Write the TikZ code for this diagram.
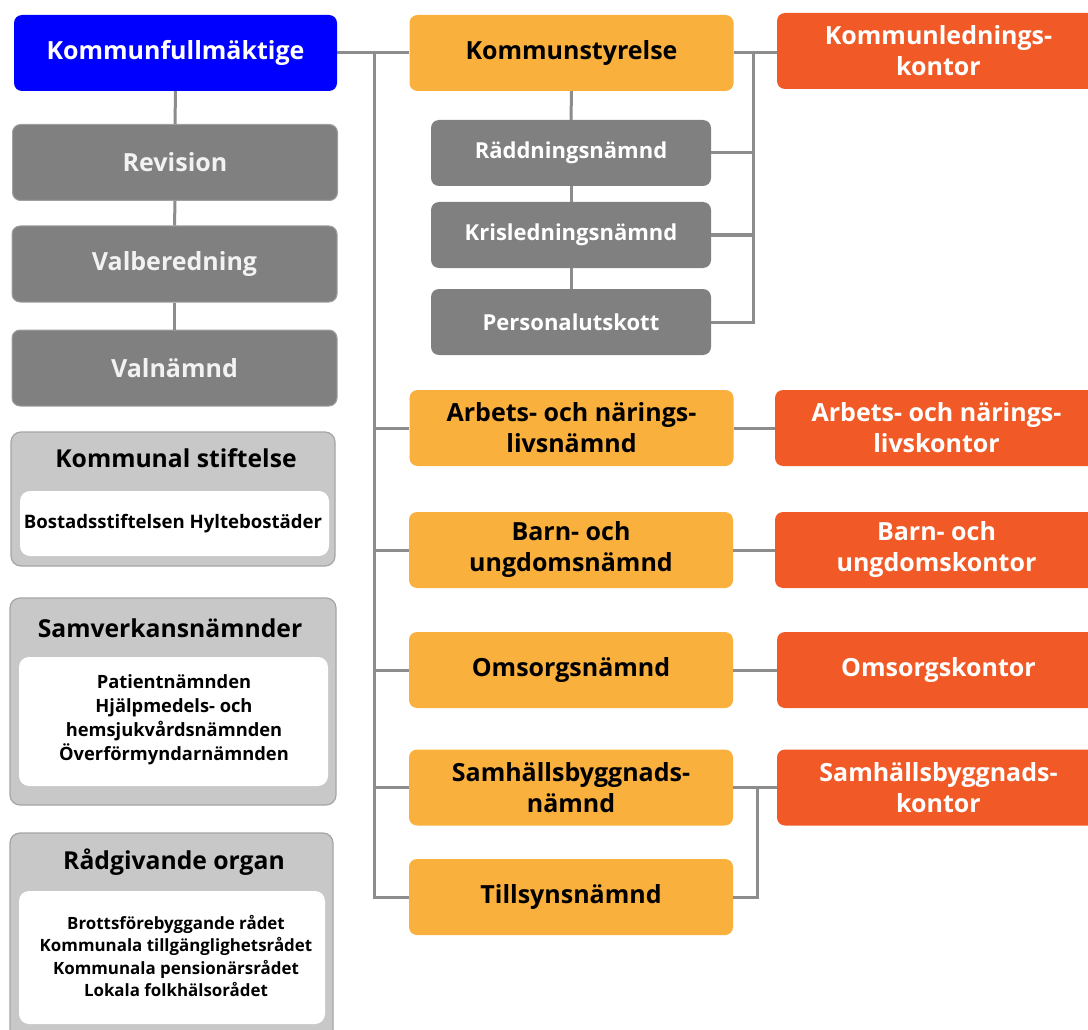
\documentclass[tikz,border=0pt]{standalone}
\usepackage{fontspec}
\setmainfont{Open Sans}
\definecolor{kfblue}{RGB}{0,0,255}
\definecolor{nmorange}{RGB}{250,176,60}
\definecolor{ktred}{RGB}{241,90,39}
\definecolor{boxgray}{RGB}{128,128,128}
\definecolor{boxgrayedge}{RGB}{160,160,160}
\definecolor{panelgray}{RGB}{200,200,200}
\definecolor{paneledge}{RGB}{165,165,165}
\definecolor{linegray}{RGB}{140,140,140}
\tikzset{
  base/.style={rectangle, rounded corners=8pt, align=center, inner sep=0pt, font=\bfseries\fontsize{25}{31}\selectfont},
  bluebox/.style={base, fill=kfblue, text=white, minimum width=323pt, minimum height=76pt},
  graybox/.style={base, fill=boxgray, draw=boxgrayedge, line width=1pt, text={rgb,255:red,242;green,242;blue,242}, minimum width=325pt, minimum height=76pt},
  subbox/.style={base, fill=boxgray, text=white, minimum width=280pt, minimum height=66pt, font=\bfseries\fontsize{22}{26}\selectfont},
  nambox/.style={base, fill=nmorange, text=black, minimum width=324pt, minimum height=76pt},
  kontbox/.style={base, fill=ktred, text=white, minimum width=323pt, minimum height=76pt},
  panel/.style={rectangle, rounded corners=10pt, fill=panelgray, draw=paneledge, line width=1.2pt},
  inner/.style={rectangle, rounded corners=10pt, fill=white},
  ptitle/.style={font=\bfseries\fontsize{24.7}{28}\selectfont, text=black, inner sep=0pt},
  ptext/.style={font=\bfseries\fontsize{18.3}{24}\selectfont, text=black, align=center, inner sep=0pt},
  conn/.style={draw=linegray, line width=3pt},
}
\begin{document}
\begin{tikzpicture}[x=1pt,y=-1pt]
\clip (0,0) rectangle (1088,1030);
\fill[white] (0,0) rectangle (1088,1030);
\coordinate (t0) at (374,53);
\coordinate (b0) at (753,53);
\coordinate (b1) at (757,787.5);
% left column
\node[bluebox] (kf) at (175.5,53) {Kommunfullmäktige};
\node[graybox] (rev) at (175,162.5) {Revision};
\node[graybox] (valb) at (174.5,264) {Valberedning};
\node[graybox] (valn) at (174.5,368) {Valnämnd};
% panels
\node[panel, minimum width=324pt, minimum height=134pt] (stift) at (173,499) {};
\node[inner, minimum width=309pt, minimum height=65pt] (stifti) at (174.5,523.5) {};
\node[ptitle] (stiftt) at (176,458) {Kommunal stiftelse};
\node[ptext, font=\bfseries\fontsize{18.6}{24}\selectfont] (stiftx) at (173,524) {Bostadsstiftelsen Hyltebostäder};
\node[panel, minimum width=326pt, minimum height=207pt] (samv) at (173,701.5) {};
\node[inner, minimum width=309pt, minimum height=129pt] (samvi) at (173.5,721.5) {};
\node[ptitle] (samvt) at (170,628) {Samverkansnämnder};
\node[ptext] (samvx) at (174,719.5) {Patientnämnden\\Hjälpmedels- och\\hemsjukvårdsnämnden\\Överförmyndarnämnden};
\node[panel, minimum width=323pt, minimum height=220pt] (radg) at (171.5,943) {};
\node[inner, minimum width=306pt, minimum height=133pt] (radgi) at (172,957.5) {};
\node[ptitle] (radgt) at (174,862) {Rådgivande organ};
\node[ptext, font=\bfseries\fontsize{16.9}{22.5}\selectfont] (radgx) at (176,956) {Brottsförebyggande rådet\\Kommunala tillgänglighetsrådet\\Kommunala pensionärsrådet\\Lokala folkhälsorådet};
% middle column
\node[nambox] (ks) at (571.5,53) {Kommunstyrelse};
\node[subbox] (radd) at (571,153) {Räddningsnämnd};
\node[subbox] (kris) at (571,235) {Krisledningsnämnd};
\node[subbox] (pers) at (571,322) {Personalutskott};
\node[nambox] (arb) at (571.5,428) {Arbets- och närings-\\livsnämnd};
\node[nambox] (barn) at (571,550) {Barn- och\\ungdomsnämnd};
\node[nambox] (oms) at (571,670) {Omsorgsnämnd};
\node[nambox] (samh) at (571,787.5) {Samhällsbyggnads-\\nämnd};
\node[nambox] (till) at (571,897) {Tillsynsnämnd};
% right column
\node[kontbox] (klk) at (938.5,51) {Kommunlednings-\\kontor};
\node[kontbox] (akont) at (936.5,428) {Arbets- och närings-\\livskontor};
\node[kontbox] (bkont) at (936.5,550) {Barn- och\\ungdomskontor};
\node[kontbox] (okont) at (938.5,670) {Omsorgskontor};
\node[kontbox] (skont) at (938.5,787.5) {Samhällsbyggnads-\\kontor};
% connectors
\draw[conn] (kf.south) -- (rev.north);
\draw[conn] (rev.south) -- (valb.north);
\draw[conn] (valb.south) -- (valn.north);
\draw[conn] (kf.east) -- (ks.west);
\draw[conn] (t0) |- (till.west);
\foreach \n in {arb,barn,oms,samh} {\draw[conn] (t0 |- \n.west) -- (\n.west);}
\draw[conn] (ks.south) -- (radd.north);
\draw[conn] (radd.south) -- (kris.north);
\draw[conn] (kris.south) -- (pers.north);
\draw[conn] (ks.east) -- (ks.east -| klk.west);
\draw[conn] (b0) |- (pers.east);
\draw[conn] (b0 |- radd.east) -- (radd.east);
\draw[conn] (b0 |- kris.east) -- (kris.east);
\draw[conn] (arb.east) -- (akont.west);
\draw[conn] (barn.east) -- (bkont.west);
\draw[conn] (oms.east) -- (okont.west);
\draw[conn] (samh.east) -- (samh.east -| skont.west);
\draw[conn] (b1) |- (till.east);
\end{tikzpicture}
\end{document}
